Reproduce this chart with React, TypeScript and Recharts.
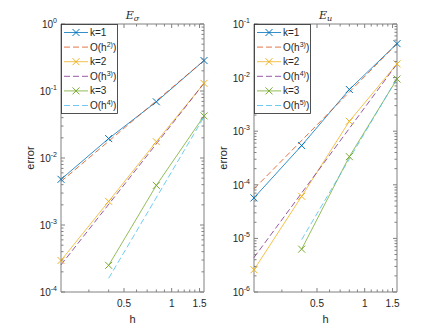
import React from 'react';
import { LineChart, Line, XAxis, YAxis, ReferenceArea, Label } from 'recharts';

// ---------- data ----------
const H = [0.2, 0.4, 0.8, 1.6];
const H_FROM_04 = [0.4, 0.8, 1.6];
const H_ENDS = [0.2, 1.6];
const H_ENDS_04 = [0.4, 1.6];

// E_sigma
const sigmaK1 = [0.0048, 0.0195, 0.069, 0.285];
const sigmaRef2 = [0.00445, 0.285];
const sigmaK2 = [0.000295, 0.00225, 0.0175, 0.13];
const sigmaRef3 = [0.000254, 0.13];
const sigmaK3 = [0.00025, 0.0039, 0.0425];
const sigmaRef4 = [0.00016, 0.041];

// E_u
const uK1 = [0.000057, 0.00054, 0.006, 0.043];
const uRef3 = [0.000084, 0.043];
const uK2 = [0.0000026, 0.000061, 0.00153, 0.018];
const uRef4 = [0.0000044, 0.018];
const uK3 = [0.0000063, 0.000335, 0.0094];
const uRef5 = [0.0000095, 0.0097];

const xTickValues = [0.3, 0.4, 0.5, 0.6, 0.7, 0.8, 0.9, 1, 1.1, 1.2, 1.3, 1.4, 1.5];
const xTickLabels = [0.5, 1, 1.5];
const sigmaYMajors = [1e-4, 1e-3, 1e-2, 1e-1, 1];
const uYMajors = [1e-6, 1e-5, 1e-4, 1e-3, 1e-2, 1e-1];

const sigmaLegend = ['k=1', 'O(h|2)', 'k=2', 'O(h|3)', 'k=3', 'O(h|4)'];
const uLegend = ['k=1', 'O(h|3)', 'k=2', 'O(h|4)', 'k=3', 'O(h|5)'];

const COLORS = ['#0072BD', '#D95319', '#EDB120', '#7E2F8E', '#77AC30', '#4DBEEE'];

// ---------- helpers ----------
type Pt = { h: number; v: number };
const zip = (hs: number[], vs: number[]): Pt[] => hs.map((h, i) => ({ h, v: vs[i] }));

const buildLogTicks = (majors: number[]) => {
  const out: number[] = [];
  majors.forEach((m, i) => {
    out.push(m);
    if (i < majors.length - 1) for (let k = 2; k <= 9; k++) out.push(m * k);
  });
  return out;
};

const FONT = '"Liberation Sans", Arial, Helvetica, sans-serif';
const AXIS = '#808080';
const TEXT = '#262626';
const LINE_W = 0.8;

const CH_H = 328;
const TOP = 24;
const PLOT_BOTTOM = 292;
const YAXIS_W = 40;
const XAXIS_H = 30;

const makeDot = (color: string) => (props: any) => {
  const { cx, cy, index } = props;
  if (cx == null || cy == null) return <g key={index} />;
  const s = 3.5;
  return (
    <path
      key={index}
      d={`M${cx - s},${cy - s}L${cx + s},${cy + s}M${cx - s},${cy + s}L${cx + s},${cy - s}`}
      stroke={color}
      strokeWidth={1}
      fill="none"
    />
  );
};

const YTick = (props: any) => {
  const { y, payload, plotLeft, plotRight } = props;
  const v = payload.value as number;
  const lg = Math.log10(v);
  const e = Math.round(lg);
  const major = Math.abs(lg - e) < 1e-6;
  const len = major ? 4 : 2.5;
  return (
    <g>
      <line x1={plotLeft} x2={plotLeft + len} y1={y} y2={y} stroke={AXIS} strokeWidth={1} />
      <line x1={plotRight} x2={plotRight - len} y1={y} y2={y} stroke={AXIS} strokeWidth={1} />
      {major && (
        <text x={plotLeft - 4} y={y + 4} textAnchor="end" fontFamily={FONT} fontSize={10} fill={TEXT}>
          10
          <tspan fontSize={7} dy={-5}>{String(e)}</tspan>
        </text>
      )}
    </g>
  );
};

const XTick = (props: any) => {
  const { x, payload } = props;
  const v = payload.value as number;
  const major = xTickLabels.some((t) => Math.abs(t - v) < 1e-9);
  const len = major ? 4 : 2.5;
  return (
    <g>
      <line x1={x} x2={x} y1={PLOT_BOTTOM} y2={PLOT_BOTTOM - len} stroke={AXIS} strokeWidth={1} />
      <line x1={x} x2={x} y1={TOP} y2={TOP + len} stroke={AXIS} strokeWidth={1} />
      {major && (
        <text x={x} y={PLOT_BOTTOM + 15} textAnchor="middle" fontFamily={FONT} fontSize={10} fill={TEXT}>
          {String(v)}
        </text>
      )}
    </g>
  );
};

const LegendText = ({ x, y, label }: { x: number; y: number; label: string }) => {
  const [base, sup] = label.split('|');
  if (sup === undefined)
    return (
      <text x={x} y={y} fontFamily={FONT} fontSize={10} fill={TEXT}>
        {base}
      </text>
    );
  return (
    <text x={x} y={y} fontFamily={FONT} fontSize={10} fill={TEXT}>
      {base}
      <tspan fontSize={7} dy={-4}>{sup}</tspan>
      <tspan dy={4}>)</tspan>
    </text>
  );
};

type Series = { data: Pt[]; color: string; dashed: boolean };

type PanelProps = {
  left: number;
  width: number;
  marginLeft: number;
  marginRight: number;
  yMajors: number[];
  series: Series[];
  legend: string[];
  title: string;
  sub: string;
};

function Panel({ left, width, marginLeft, marginRight, yMajors, series, legend, title, sub }: PanelProps) {
  const plotLeft = marginLeft + YAXIS_W;
  const plotRight = width - marginRight;
  const yDomain = [yMajors[0], yMajors[yMajors.length - 1]];
  const yTicks = buildLogTicks(yMajors);
  const cx = (plotLeft + plotRight) / 2;
  const rowH = 14.6;
  const legW = 56;
  const legH = 89;
  return (
    <div style={{ position: 'absolute', left, top: 0, width, height: CH_H }}>
      <LineChart
        width={width}
        height={CH_H}
        margin={{ top: TOP, right: marginRight, bottom: CH_H - PLOT_BOTTOM - XAXIS_H, left: marginLeft }}
      >
        <XAxis
          dataKey="h"
          type="number"
          scale="log"
          domain={[H[0], H[H.length - 1]]}
          ticks={xTickValues}
          interval={0}
          axisLine={false}
          tickLine={false}
          height={XAXIS_H}
          tick={<XTick />}
        >
          <Label
            content={() => (
              <text x={cx} y={PLOT_BOTTOM + 31} textAnchor="middle" fontFamily={FONT} fontSize={11} fill={TEXT}>
                h
              </text>
            )}
          />
        </XAxis>
        <YAxis
          dataKey="v"
          type="number"
          scale="log"
          domain={yDomain}
          ticks={yTicks}
          interval={0}
          axisLine={false}
          tickLine={false}
          width={YAXIS_W}
          tick={<YTick plotLeft={plotLeft} plotRight={plotRight} />}
        >
          <Label
            content={() => (
              <text
                x={plotLeft - 27}
                y={(TOP + PLOT_BOTTOM) / 2}
                transform={`rotate(-90 ${plotLeft - 27} ${(TOP + PLOT_BOTTOM) / 2})`}
                textAnchor="middle"
                fontFamily={FONT}
                fontSize={11}
                fill={TEXT}
              >
                error
              </text>
            )}
          />
        </YAxis>
        {series.map((s, i) => (
          <Line
            key={i}
            data={s.data}
            dataKey="v"
            stroke={s.color}
            strokeWidth={LINE_W}
            strokeDasharray={s.dashed ? '6 3' : undefined}
            dot={s.dashed ? false : makeDot(s.color)}
            activeDot={false}
            isAnimationActive={false}
          />
        ))}
        <ReferenceArea
          x1={H[0]}
          x2={H[H.length - 1]}
          y1={yDomain[0]}
          y2={yDomain[1]}
          fill="none"
          fillOpacity={0}
          stroke={AXIS}
          strokeWidth={1}
          ifOverflow="visible"
        />
      </LineChart>
      <svg
        width={width}
        height={CH_H}
        style={{ position: 'absolute', left: 0, top: 0, pointerEvents: 'none' }}
      >
        <text x={cx} y={19} textAnchor="middle" fontFamily='"DejaVu Serif", "Liberation Serif", serif' fontStyle="italic" fontSize={11} fill={TEXT}>
          {title}
          <tspan fontSize={8} dy={2}>{sub}</tspan>
        </text>
        <rect x={plotLeft + 0.5} y={TOP + 0.5} width={legW} height={legH} fill="#fff" stroke={TEXT} strokeWidth={0.8} />
        {legend.map((lab, i) => {
          const y = TOP + 8.5 + i * rowH;
          const s = series[i];
          const x0 = plotLeft + 3;
          const x1 = plotLeft + 27;
          const mx = (x0 + x1) / 2;
          return (
            <g key={i}>
              <line x1={x0} x2={x1} y1={y} y2={y} stroke={s.color} strokeWidth={LINE_W} strokeDasharray={s.dashed ? '6 3' : undefined} />
              {!s.dashed && (
                <path d={`M${mx - 3.5},${y - 3.5}L${mx + 3.5},${y + 3.5}M${mx - 3.5},${y + 3.5}L${mx + 3.5},${y - 3.5}`} stroke={s.color} strokeWidth={1} fill="none" />
              )}
              <LegendText x={plotLeft + 29} y={y + 3.5} label={lab} />
            </g>
          );
        })}
      </svg>
    </div>
  );
}

const sigmaSeries: Series[] = [
  { data: zip(H, sigmaK1), color: COLORS[0], dashed: false },
  { data: zip(H_ENDS, sigmaRef2), color: COLORS[1], dashed: true },
  { data: zip(H, sigmaK2), color: COLORS[2], dashed: false },
  { data: zip(H_ENDS, sigmaRef3), color: COLORS[3], dashed: true },
  { data: zip(H_FROM_04, sigmaK3), color: COLORS[4], dashed: false },
  { data: zip(H_ENDS_04, sigmaRef4), color: COLORS[5], dashed: true },
];

const uSeries: Series[] = [
  { data: zip(H, uK1), color: COLORS[0], dashed: false },
  { data: zip(H_ENDS, uRef3), color: COLORS[1], dashed: true },
  { data: zip(H, uK2), color: COLORS[2], dashed: false },
  { data: zip(H_ENDS, uRef4), color: COLORS[3], dashed: true },
  { data: zip(H_FROM_04, uK3), color: COLORS[4], dashed: false },
  { data: zip(H_ENDS_04, uRef5), color: COLORS[5], dashed: true },
];

export default function App() {
  return (
    <div style={{ position: 'absolute', left: 0, top: 0, width: 438, height: 328, background: '#fff' }}>
      <Panel left={0} width={219} marginLeft={21} marginRight={15} yMajors={sigmaYMajors} series={sigmaSeries} legend={sigmaLegend} title="E" sub="σ" />
      <Panel left={214} width={224} marginLeft={0} marginRight={41} yMajors={uYMajors} series={uSeries} legend={uLegend} title="E" sub="u" />
    </div>
  );
}
